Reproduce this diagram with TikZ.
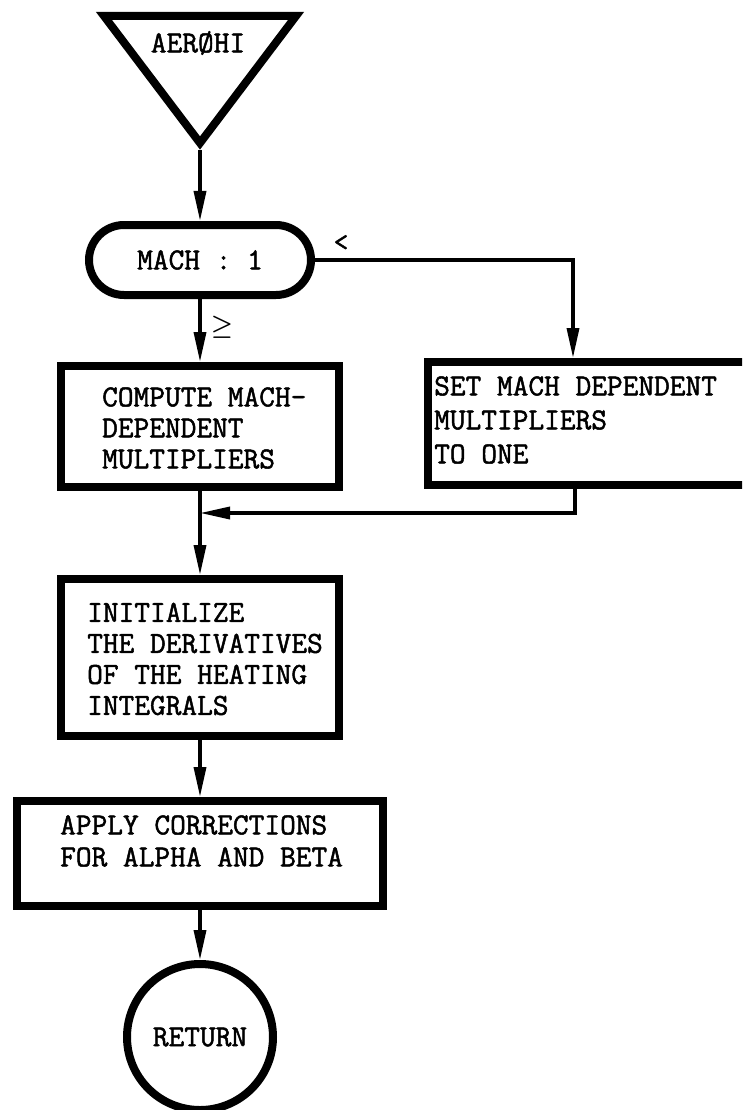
\documentclass[tikz,border=0pt]{standalone}
\usepackage{fontspec}
\newfontfamily\twfont{Latin Modern Mono}[FakeBold=1.6]
\usetikzlibrary{shapes.misc,arrows.meta,calc}
\begin{document}
\begin{tikzpicture}[x=1pt,y=-1pt,
  shp/.style={draw, line width=8pt, line join=miter},
  boxs/.style={shp, rectangle, inner sep=0pt},
  fnt/.style={font=\fontsize{30.5}{31}\selectfont\twfont\bfseries},
  txt/.style={fnt, align=left, inner sep=0pt},
  conn/.style={line width=3.5pt},
  arr/.style={conn, -{Triangle[length=30pt,width=12pt]}},
]
\clip (0,0) rectangle (742,1110);
% entry triangle
\draw[shp] (104,16) -- (296,16) -- (200,143) -- cycle;
\node[txt] (entry) at (198,43) {AERØHI};
\coordinate (apex) at (200,150);
% decision
\node[shp, rounded rectangle, minimum width=222pt, minimum height=70pt, inner sep=0pt, fnt] (mach) at (200,260) {MACH : 1};
\node[font=\fontsize{24}{24}\selectfont\boldmath] (ge) at (222,327) {$\geq$};
\node[font=\fontsize{28}{28}\selectfont\twfont\bfseries] (lt) at (341,243) {<};
% boxes
\node[boxs, minimum width=278pt, minimum height=121pt] (b1) at (200,426.5) {};
\node[txt, anchor=west] (b1t) at (102,428) {COMPUTE MACH-\\DEPENDENT\\MULTIPLIERS};
\node[boxs, minimum width=364pt, minimum height=123pt] (rbox) at (610,423.5) {};
\node[txt, anchor=west, font=\fontsize{30.5}{34}\selectfont\twfont\bfseries] (rboxt) at (434,420) {SET MACH DEPENDENT\\MULTIPLIERS\\TO ONE};
\node[boxs, minimum width=278pt, minimum height=157pt] (b2) at (200,657.5) {};
\node[txt, anchor=west] (b2t) at (87,659) {INITIALIZE\\THE DERIVATIVES\\OF THE HEATING\\INTEGRALS};
\node[boxs, minimum width=366pt, minimum height=105pt] (b3) at (200,853.5) {};
\node[txt, anchor=west, font=\fontsize{30.5}{32}\selectfont\twfont\bfseries] (b3t) at (60,841) {APPLY CORRECTIONS\\FOR ALPHA AND BETA};
\node[shp, circle, minimum size=146pt, inner sep=0pt, fnt] (ret) at (200,1037) {RETURN};
% connectors
\coordinate (rin) at ([xshift=149pt]rbox.north west);
\coordinate (rout) at ([xshift=151pt]rbox.south west);
\coordinate (join) at (b1.south |- 0,513);
\draw[arr] (apex) -- (mach.north);
\draw[arr] (mach.south) -- (b1.north);
\draw[arr] (mach.east) -| (rin);
\draw[conn] (b1.south) -- (join);
\draw[arr] (rout) |- (join);
\draw[arr] (join) -- (b2.north);
\draw[arr] (b2.south) -- (b3.north);
\draw[arr] (b3.south) -- (ret.north);
\end{tikzpicture}
\end{document}
